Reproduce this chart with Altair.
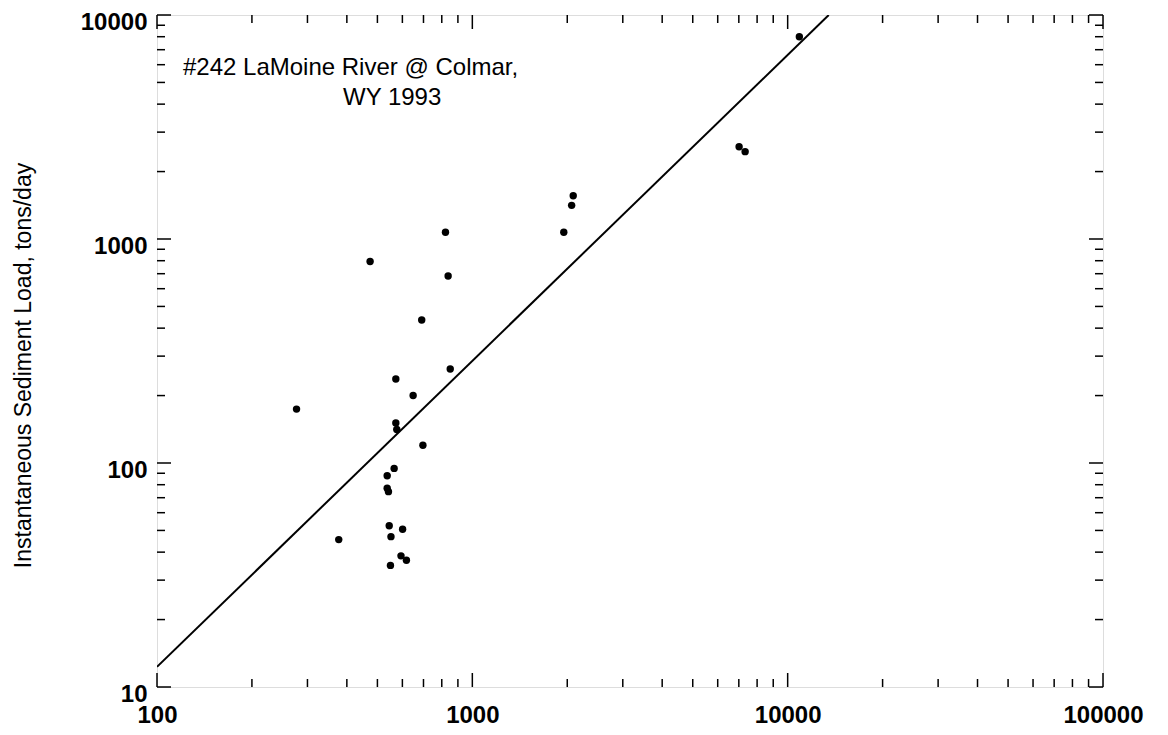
import altair as alt
import pandas as pd

# Discharge (x) and sediment load (y)
discharge = [10890, 7015, 7330, 2089, 2065, 1950, 822, 474, 838, 691, 851, 572, 649, 277,
             572, 576, 697, 565, 537, 537, 542, 545, 601, 552, 377, 594, 618, 550]
load = [8000, 2583, 2455, 1560, 1413, 1072, 1072, 794, 684, 435, 263, 237, 200, 174,
        151, 141, 120, 94.6, 87.7, 77.1, 74.5, 52.5, 50.6, 46.9, 45.5, 38.5, 36.8, 34.9]

# Regression line end points
line_x = [100, 13500]
line_y = [12.3, 10000]

x_major = [100, 1000, 10000, 100000]
y_major = [10, 100, 1000, 10000]
x_minor = [m * d for d in [100, 1000, 10000] for m in range(2, 10)]
y_minor = [m * d for d in [10, 100, 1000] for m in range(2, 10)]

title_lines = ["#242 LaMoine River @ Colmar,", "WY 1993"]

W, H = 946, 672
FONT = "Liberation Sans"

xs = alt.Scale(type="log", domain=[100, 100000])
ys = alt.Scale(type="log", domain=[10, 10000])

pts = pd.DataFrame({"q": discharge, "s": load})
ln = pd.DataFrame({"q": line_x, "s": line_y})

base_x = alt.X("q:Q", scale=xs, axis=alt.Axis(
    values=x_major, format="d", ticks=False, grid=False, domain=False,
    labelFont=FONT, labelFontSize=24, labelFontWeight="bold", labelColor="black",
    labelPadding=16, labelFlush=False, title=None))
base_y = alt.Y("s:Q", scale=ys, axis=alt.Axis(
    values=y_major, format="d", ticks=False, grid=False, domain=False,
    labelFont=FONT, labelFontSize=24, labelFontWeight="bold", labelColor="black",
    labelPadding=10, labelOffset=7, labelFlush=False,
    title="Instantaneous Sediment Load, tons/day", titleFont=FONT, titleFontSize=23,
    titleFontWeight="normal", titleColor="black", titleAngle=-90,
    titleX=-134, titleY=H / 2 + 14, titleAlign="center", titleBaseline="middle"))

points = alt.Chart(pts).mark_point(filled=True, color="black", size=55, opacity=1).encode(
    x=base_x, y=base_y)
line = alt.Chart(ln).mark_line(color="black", strokeWidth=2, clip=True).encode(
    x=alt.X("q:Q", scale=xs), y=alt.Y("s:Q", scale=ys))


def xticks(vals, length):
    d = pd.DataFrame({"q": vals})
    bot = alt.Chart(d).mark_rule(color="black", strokeWidth=1.5).encode(
        x=alt.X("q:Q", scale=xs), y=alt.value(H), y2=alt.value(H - length))
    top = alt.Chart(d).mark_rule(color="black", strokeWidth=1.5).encode(
        x=alt.X("q:Q", scale=xs), y=alt.value(0), y2=alt.value(length))
    return [bot, top]


def yticks(vals, length):
    d = pd.DataFrame({"s": vals})
    left = alt.Chart(d).mark_rule(color="black", strokeWidth=1.5).encode(
        y=alt.Y("s:Q", scale=ys), x=alt.value(0), x2=alt.value(length))
    right = alt.Chart(d).mark_rule(color="black", strokeWidth=1.5).encode(
        y=alt.Y("s:Q", scale=ys), x=alt.value(W), x2=alt.value(W - length))
    return [left, right]


tick_layers = xticks(x_major, 14) + xticks(x_minor, 8) + yticks(y_major, 14) + yticks(y_minor, 8)

tdf = pd.DataFrame({"t": title_lines, "px": [26, 186], "py": [60, 90]})
title = alt.Chart(tdf).mark_text(font=FONT, fontSize=24, align="left", baseline="alphabetic",
                                 color="black").encode(
    text="t:N", x=alt.X("px:Q", scale=None), y=alt.Y("py:Q", scale=None))

chart = alt.layer(points, line, *tick_layers, title).properties(
    width=W, height=H,
    autosize=alt.AutoSizeParams(type="none"),
    padding={"left": 149, "top": 7, "right": 50, "bottom": 40},
).configure_view(stroke="black", strokeWidth=2).configure(background="white")

chart.save("out.html", embed_options={"renderer": "svg", "actions": False})
